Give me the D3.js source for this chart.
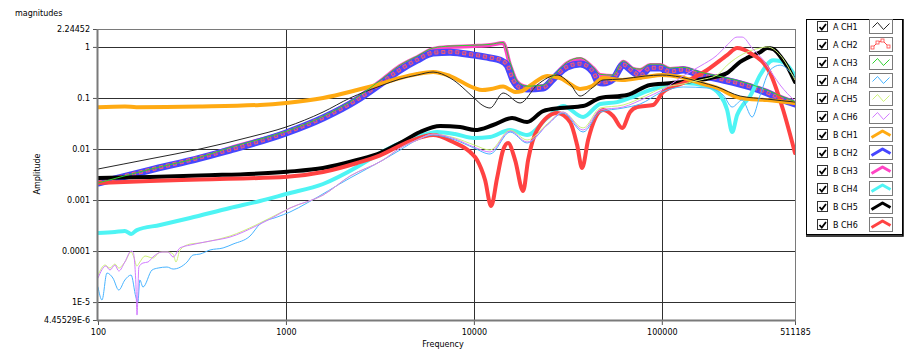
<!DOCTYPE html>
<html><head><meta charset="utf-8">
<script src="https://cdn.jsdelivr.net/npm/d3@7"></script>
<style>
html,body{margin:0;padding:0;background:#fff;}
svg{display:block;}
text{font-family:"DejaVu Sans",Verdana,sans-serif;font-size:8px;fill:#000;}
</style></head><body>
<svg id="chart" width="905" height="350"></svg>
<script>
// ---- data: [frequency, amplitude] ----
const aCh1 = [[100,0.00405],[189,0.0064],[349,0.0100],[644,0.0172],[1001,0.0269],[1576,0.053],[2193,0.0997],[3169,0.171],[4048,0.235],[4986,0.281],[6066,0.322],[7470,0.246],[10025,0.100],[11057,0.0727],[12195,0.0635],[14305,0.125],[17620,0.0796],[21700,0.179],[27730,0.281],[32510,0.188],[36740,0.109],[42580,0.157],[48700,0.225],[61490,0.235],[81500,0.269],[100370,0.281],[125150,0.257],[159900,0.205],[196900,0.164],[261100,0.109],[363500,0.095],[511185,0.083]];
const aCh2 = [[100,0.0022],[189,0.0039],[349,0.0068],[504,0.0097],[1001,0.021],[1576,0.0412],[2389,0.093],[3287,0.21],[4048,0.36],[4986,0.56],[6066,0.77],[7470,0.80],[10025,0.70],[12195,0.62],[13788,0.56],[15020,0.45],[16160,0.23],[17620,0.16],[19192,0.153],[23350,0.16],[26400,0.24],[31330,0.41],[36740,0.47],[43100,0.33],[45810,0.21],[48700,0.20],[55060,0.24],[62230,0.45],[70360,0.33],[76650,0.275],[86660,0.39],[97930,0.39],[110700,0.33],[129800,0.36],[159900,0.285],[212000,0.23],[295100,0.167],[363500,0.128],[442200,0.093],[511185,0.078]];
const aCh3 = [[100,0.00215],[189,0.0040],[349,0.0069],[504,0.0107],[1001,0.0222],[1576,0.0437],[2389,0.103],[3287,0.245],[4048,0.44],[4986,0.66],[6066,0.95],[7470,1.04],[10025,1.08],[12195,1.12],[14305,1.22],[15582,0.50],[16980,0.215],[19192,0.170],[23350,0.178],[26400,0.267],[31330,0.50],[36740,0.61],[43100,0.40],[46960,0.29],[55060,0.28],[62230,0.53],[70360,0.385],[76650,0.367],[86660,0.46],[97930,0.46],[110700,0.385],[129800,0.40],[159900,0.32],[212000,0.256],[295100,0.186],[363500,0.142],[442200,0.104],[511185,0.086]];
const aCh4 = [[100,0.0000197],[105,0.000011],[111.6,0.0000371],[120,0.0000296],[129,0.0000172],[139,0.0000271],[150,0.0000339],[159,0.0000126],[163,0.00001],[167,0.0000271],[173.5,0.0000197],[194,0.0000425],[209,0.0000465],[233,0.0000486],[251,0.0000444],[298,0.000061],[320,0.0000835],[349,0.0000874],[395,0.000105],[463,0.000115],[523,0.000137],[644,0.000197],[728,0.000338],[897,0.000464],[1051,0.000582],[1295,0.000873],[2193,0.0027],[3287,0.00608],[4048,0.00954],[4986,0.015],[6066,0.0188],[7943,0.015],[10025,0.01044],[12195,0.00796],[15582,0.0215],[19192,0.0131],[24530,0.0295],[29830,0.0507],[38120,0.0215],[46960,0.053],[62230,0.0635],[76650,0.076],[100370,0.131],[129800,0.164],[174200,0.157],[212000,0.114],[236700,0.0664],[267600,0.091],[302400,0.0423],[333600,0.114],[377000,0.353],[426200,0.44],[511185,0.246]];
const aCh5 = [[100,0.0000339],[109,0.0000532],[115.8,0.0000465],[123,0.0000557],[129,0.0000465],[139,0.000061],[150,0.0000957],[155,0.0000765],[161,0.0000509],[167,0.000061],[178,0.0000799],[196,0.000073],[214,0.0000957],[236,0.0000957],[251,0.0000874],[260,0.000061],[273,0.000105],[309,0.000137],[349,0.000144],[395,0.000157],[504,0.000197],[693,0.000324],[823,0.000444],[1051,0.000697],[1576,0.00125],[2193,0.00295],[3287,0.00608],[4048,0.0104],[4986,0.015],[6066,0.0196],[7943,0.0164],[10025,0.012],[12195,0.00954],[15582,0.0235],[19192,0.015],[24530,0.0309],[29830,0.053],[38120,0.0258],[46960,0.0635],[62230,0.0727],[81500,0.109],[100370,0.157],[129800,0.188],[159900,0.225],[196900,0.281],[222600,0.44],[270900,0.73],[333600,0.95],[363500,1.0],[426200,0.69],[511185,0.225]];
const aCh6 = [[100,0.0000296],[110,0.0000509],[115.8,0.0000425],[123,0.0000532],[129,0.0000406],[139,0.000061],[150,0.0001],[153.6,0.0000957],[159,0.0000236],[161.3,0.00000557],[165,0.0000486],[173.5,0.0000583],[184.5,0.000061],[196,0.0000764],[219,0.0000957],[236,0.0000957],[251,0.0000764],[273,0.000115],[309,0.000131],[349,0.000144],[395,0.000157],[504,0.000188],[693,0.000309],[823,0.000424],[1051,0.000697],[1576,0.00125],[2193,0.00295],[3287,0.00608],[4048,0.0104],[4986,0.015],[6066,0.0196],[7943,0.0157],[10025,0.0109],[12195,0.00872],[15582,0.0225],[19192,0.0137],[24530,0.0295],[29830,0.053],[38120,0.0235],[46960,0.058],[62230,0.0664],[81500,0.0997],[100370,0.143],[129800,0.269],[159900,0.42],[196900,0.69],[222600,1.09],[251600,1.56],[267600,1.56],[302400,0.95],[346000,0.55],[391200,0.281],[426200,0.179],[511185,0.087]];
const bCh1 = [[100,0.066],[139,0.068],[160,0.066],[349,0.068],[728,0.073],[1001,0.080],[1576,0.100],[2389,0.143],[3169,0.188],[4048,0.246],[4986,0.294],[6066,0.322],[7470,0.269],[10025,0.157],[11057,0.143],[12349,0.150],[14305,0.168],[16571,0.131],[18053,0.137],[20155,0.179],[24530,0.269],[28753,0.246],[32510,0.188],[36740,0.150],[42580,0.171],[48700,0.246],[61490,0.225],[81500,0.257],[100370,0.281],[125150,0.257],[159900,0.196],[196900,0.157],[261100,0.100],[363500,0.091],[511185,0.080]];
const bCh2 = [[100,0.00215],[189,0.00387],[349,0.00665],[504,0.00954],[1001,0.0206],[1576,0.0404],[2389,0.091],[3287,0.205],[4048,0.353],[4986,0.55],[6066,0.76],[7470,0.79],[10025,0.69],[12195,0.61],[13788,0.55],[15020,0.44],[16160,0.225],[17620,0.157],[19192,0.150],[23350,0.157],[26400,0.235],[31330,0.404],[36740,0.462],[43100,0.322],[45810,0.205],[48700,0.196],[55060,0.235],[62230,0.44],[70360,0.322],[76650,0.269],[86660,0.386],[97930,0.386],[110700,0.322],[129800,0.353],[159900,0.281],[212000,0.225],[295100,0.164],[363500,0.125],[442200,0.091],[511185,0.076]];
const bCh3 = [[100,0.00206],[189,0.00387],[349,0.00665],[504,0.0104],[1001,0.0215],[1576,0.0423],[2389,0.0997],[3287,0.235],[4048,0.422],[4986,0.63],[6066,0.91],[7470,1.00],[10025,1.04],[12195,1.09],[14305,1.19],[15582,0.44],[16980,0.205],[19192,0.164],[23350,0.171],[26400,0.257],[31330,0.48],[36740,0.58],[43100,0.386],[46960,0.281],[55060,0.269],[62230,0.51],[70360,0.37],[76650,0.353],[86660,0.44],[97930,0.44],[110700,0.37],[129800,0.386],[159900,0.308],[212000,0.246],[295100,0.179],[363500,0.137],[442200,0.100],[511185,0.083]];
const bCh4 = [[100,0.000225],[123,0.000236],[139,0.000247],[150,0.000216],[161,0.000258],[214,0.000324],[309,0.000444],[504,0.000697],[728,0.000955],[1001,0.00131],[1576,0.00206],[2389,0.00443],[3169,0.00833],[4048,0.0131],[4986,0.0172],[6372,0.0215],[7943,0.0196],[10025,0.0164],[12195,0.0172],[15582,0.0235],[19192,0.0188],[24530,0.0404],[29830,0.0695],[38120,0.0423],[46960,0.076],[57820,0.083],[67800,0.100],[86660,0.143],[100370,0.164],[129800,0.196],[174200,0.171],[204300,0.114],[222600,0.058],[236700,0.0215],[251600,0.0463],[267600,0.0695],[295100,0.109],[333600,0.281],[391200,0.55],[426200,0.53],[470200,0.422],[511185,0.269]];
const bCh5 = [[100,0.0027],[189,0.00282],[349,0.00302],[1014,0.00358],[1576,0.00424],[2389,0.00608],[3169,0.00833],[4048,0.0131],[5172,0.0215],[6610,0.0282],[8445,0.0269],[10150,0.0235],[12654,0.0295],[15970,0.0404],[19192,0.0337],[23350,0.0554],[28753,0.0635],[38120,0.0695],[46960,0.100],[65360,0.114],[86660,0.179],[129800,0.205],[180700,0.246],[222600,0.308],[261100,0.51],[284500,0.61],[333600,0.79],[363500,0.95],[391200,0.91],[426200,0.66],[470200,0.386],[511185,0.205]];
const bCh6 = [[100,0.00215],[189,0.00235],[349,0.00252],[1014,0.00286],[1576,0.00354],[2389,0.00531],[3169,0.0075],[4577,0.0143],[6066,0.0188],[7750,0.0137],[9546,0.00872],[10400,0.00608],[11470,0.00246],[12349,0.000762],[13290,0.0027],[14305,0.00954],[15205,0.0131],[16571,0.00608],[18276,0.0015],[19430,0.00608],[21700,0.0235],[27730,0.0507],[32510,0.0337],[35420,0.01196],[37650,0.00424],[40530,0.015],[48700,0.058],[55060,0.0442],[61490,0.0258],[67800,0.053],[73890,0.0664],[89870,0.0727],[101600,0.131],[129800,0.196],[174200,0.353],[222600,0.69],[251600,0.95],[295100,0.76],[377000,0.308],[442200,0.058],[511185,0.00833]];

const seriesNames = ["A CH1","A CH2","A CH3","A CH4","A CH5","A CH6","B CH1","B CH2","B CH3","B CH4","B CH5","B CH6"];
const seriesData  = [aCh1,aCh2,aCh3,aCh4,aCh5,aCh6,bCh1,bCh2,bCh3,bCh4,bCh5,bCh6];
const xTickValues = [100,1000,10000,100000,511185];
const xTickLabels = ["100","1000","10000","100000","511185"];
const yTickValues = [4.45529e-6,1e-5,1e-4,1e-3,0.01,0.1,1,2.24452];
const yTickLabels = ["4.45529E-6","1E-5","0.0001","0.001","0.01","0.1","1","2.24452"];

// ---- styles ----
const styles = {
  "A CH1":{color:"#262626",width:1},
  "A CH2":{color:"#ff4848",width:1,squares:true},
  "A CH3":{color:"#30d030",width:1},
  "A CH4":{color:"#48b4ff",width:1},
  "A CH5":{color:"#cdf27a",width:1},
  "A CH6":{color:"#d27cff",width:1},
  "B CH1":{color:"#ffaa12",width:4},
  "B CH2":{color:"#4646ff",width:7},
  "B CH3":{color:"#ff44c4",width:4},
  "B CH4":{color:"#4ef4f4",width:4},
  "B CH5":{color:"#000000",width:4},
  "B CH6":{color:"#ff4242",width:4}
};
const drawOrder = ["B CH3","B CH2","A CH2","B CH4","B CH5","B CH6","B CH1","A CH1","A CH3","A CH4","A CH5","A CH6"];

const plot = {left:98,right:795,top:29,bottom:320};
const svg = d3.select("#chart");
const x = d3.scaleLog().domain([100,511185]).range([plot.left,plot.right]);
const y = d3.scaleLog().domain([4.45529e-6,2.24452]).range([plot.bottom,plot.top]);

svg.append("rect").attr("x",plot.left).attr("y",plot.top)
  .attr("width",plot.right-plot.left).attr("height",plot.bottom-plot.top).attr("fill","#fff");

// grid
const grid = svg.append("g").attr("stroke","#303030").attr("stroke-width",1).attr("shape-rendering","crispEdges");
grid.selectAll("line.h").data(yTickValues.slice(1,-1)).join("line")
  .attr("x1",plot.left).attr("x2",plot.right)
  .attr("y1",d=>Math.round(y(d))+0.5).attr("y2",d=>Math.round(y(d))+0.5);
grid.selectAll("line.v").data(xTickValues.slice(1,-1)).join("line")
  .attr("y1",plot.top).attr("y2",plot.bottom)
  .attr("x1",d=>Math.round(x(d))+0.5).attr("x2",d=>Math.round(x(d))+0.5);

// frame
svg.append("line").attr("x1",plot.left).attr("x2",plot.right).attr("y1",plot.top+0.5).attr("y2",plot.top+0.5)
  .attr("stroke","#7a7a7a").attr("stroke-width",1);
svg.append("line").attr("x1",plot.right+0.5).attr("x2",plot.right+0.5).attr("y1",plot.top).attr("y2",plot.bottom)
  .attr("stroke","#7a7a7a").attr("stroke-width",1);

svg.append("defs").append("clipPath").attr("id","clip").append("rect")
  .attr("x",plot.left).attr("y",plot.top).attr("width",plot.right-plot.left).attr("height",plot.bottom-plot.top);

const line = d3.line().x(d=>x(d[0])).y(d=>y(d[1])).curve(d3.curveMonotoneX);
const lines = svg.append("g").attr("clip-path","url(#clip)");
drawOrder.forEach(name=>{
  const i = seriesNames.indexOf(name);
  const st = styles[name];
  const data = seriesData[i];
  if (st.squares){
    lines.append("path").attr("d",line(data)).attr("fill","none")
      .attr("stroke","#f05a7a").attr("stroke-width",4).attr("stroke-dasharray","4,3");
    lines.append("path").attr("d",line(data)).attr("fill","none")
      .attr("stroke","#5050ff").attr("stroke-width",2).attr("stroke-dasharray","2,5").attr("stroke-dashoffset",-1);
    lines.append("path").attr("d",line(data)).attr("fill","none")
      .attr("stroke",st.color).attr("stroke-width",0.6).attr("stroke-opacity",0.6);
  } else {
    lines.append("path").attr("d",line(data)).attr("fill","none")
      .attr("stroke",st.color).attr("stroke-width",st.width)
      .attr("stroke-linejoin","round").attr("stroke-linecap","round");
  }
});

// axes
const yAxis = d3.axisLeft(y).tickValues(yTickValues).tickFormat((d,i)=>yTickLabels[i]).tickSize(5).tickPadding(3);
const gy = svg.append("g").attr("transform",`translate(${plot.left},0)`).call(yAxis);
gy.select(".domain").remove();
gy.selectAll(".tick line").attr("stroke","#555");
gy.selectAll(".tick text").style("font-family","'DejaVu Sans',Verdana,sans-serif").style("font-size","8px").attr("fill","#000");

const xAxis = d3.axisBottom(x).tickValues(xTickValues).tickFormat((d,i)=>xTickLabels[i]).tickSize(5).tickPadding(4);
const gx = svg.append("g").attr("transform",`translate(0,${plot.bottom})`).call(xAxis);
gx.select(".domain").remove();
gx.selectAll(".tick line").attr("stroke","#555");
gx.selectAll(".tick text").style("font-family","'DejaVu Sans',Verdana,sans-serif").style("font-size","8px").attr("fill","#000");

svg.append("line").attr("x1",plot.left-0.5).attr("x2",plot.left-0.5).attr("y1",plot.top).attr("y2",plot.bottom+1)
  .attr("stroke","#7a7a7a").attr("stroke-width",2);
svg.append("line").attr("x1",plot.left-1).attr("x2",plot.right+1).attr("y1",plot.bottom+0.5).attr("y2",plot.bottom+0.5)
  .attr("stroke","#7a7a7a").attr("stroke-width",2);

// titles
svg.append("text").attr("x",15).attr("y",16).text("magnitudes");
svg.append("text").attr("transform","translate(40,174) rotate(-90)").attr("text-anchor","middle").text("Amplitude");
svg.append("text").attr("x",443).attr("y",347).attr("text-anchor","middle").text("Frequency");

// legend
const lg = svg.append("g");
lg.append("rect").attr("x",806.5).attr("y",19.5).attr("width",96).attr("height",215)
  .attr("fill","#fff").attr("stroke","#000").attr("stroke-width",1);
lg.append("path").attr("d","M903,19 V236 H806").attr("fill","none").attr("stroke","#000").attr("stroke-width",1.5);
seriesNames.forEach((name,i)=>{
  const cy = 27 + i*18;
  const st = styles[name];
  const r = lg.append("g");
  r.append("rect").attr("x",817.5).attr("y",cy-5.5).attr("width",10).attr("height",10)
    .attr("fill","#fff").attr("stroke","#333").attr("stroke-width",1);
  r.append("path").attr("d",`M819.5,${cy} L821.8,${cy+2.6} L826,${cy-3}`).attr("fill","none")
    .attr("stroke","#000").attr("stroke-width",1.8);
  r.append("text").attr("x",833).attr("y",cy+3).text(name);
  const sx = 869.5, sy = cy-7.5;
  r.append("rect").attr("x",sx).attr("y",sy).attr("width",23).attr("height",14)
    .attr("fill","#fff").attr("stroke","#7a7a7a").attr("stroke-width",1);
  if (name.startsWith("A")){
    let pts = [[3,8],[8,3],[14,10],[20,4]];
    if (st.squares) pts = [[3,10],[8,5],[13,3],[19,9]];
    r.append("path").attr("d",d3.line()(pts.map(p=>[sx+p[0],sy+p[1]])))
      .attr("fill","none").attr("stroke",st.color).attr("stroke-width",1);
    if (st.squares){
      pts.forEach(p=>r.append("rect").attr("x",sx+p[0]-1.5).attr("y",sy+p[1]-1.5).attr("width",3).attr("height",3)
        .attr("fill","#fff").attr("stroke",st.color).attr("stroke-width",0.8));
    }
  } else {
    const pts = [[2,10],[13,3.5],[21,8]];
    r.append("path").attr("d",d3.line()(pts.map(p=>[sx+p[0],sy+p[1]])))
      .attr("fill","none").attr("stroke",st.color).attr("stroke-width",3).attr("stroke-linejoin","round");
  }
});
</script>
</body></html>
